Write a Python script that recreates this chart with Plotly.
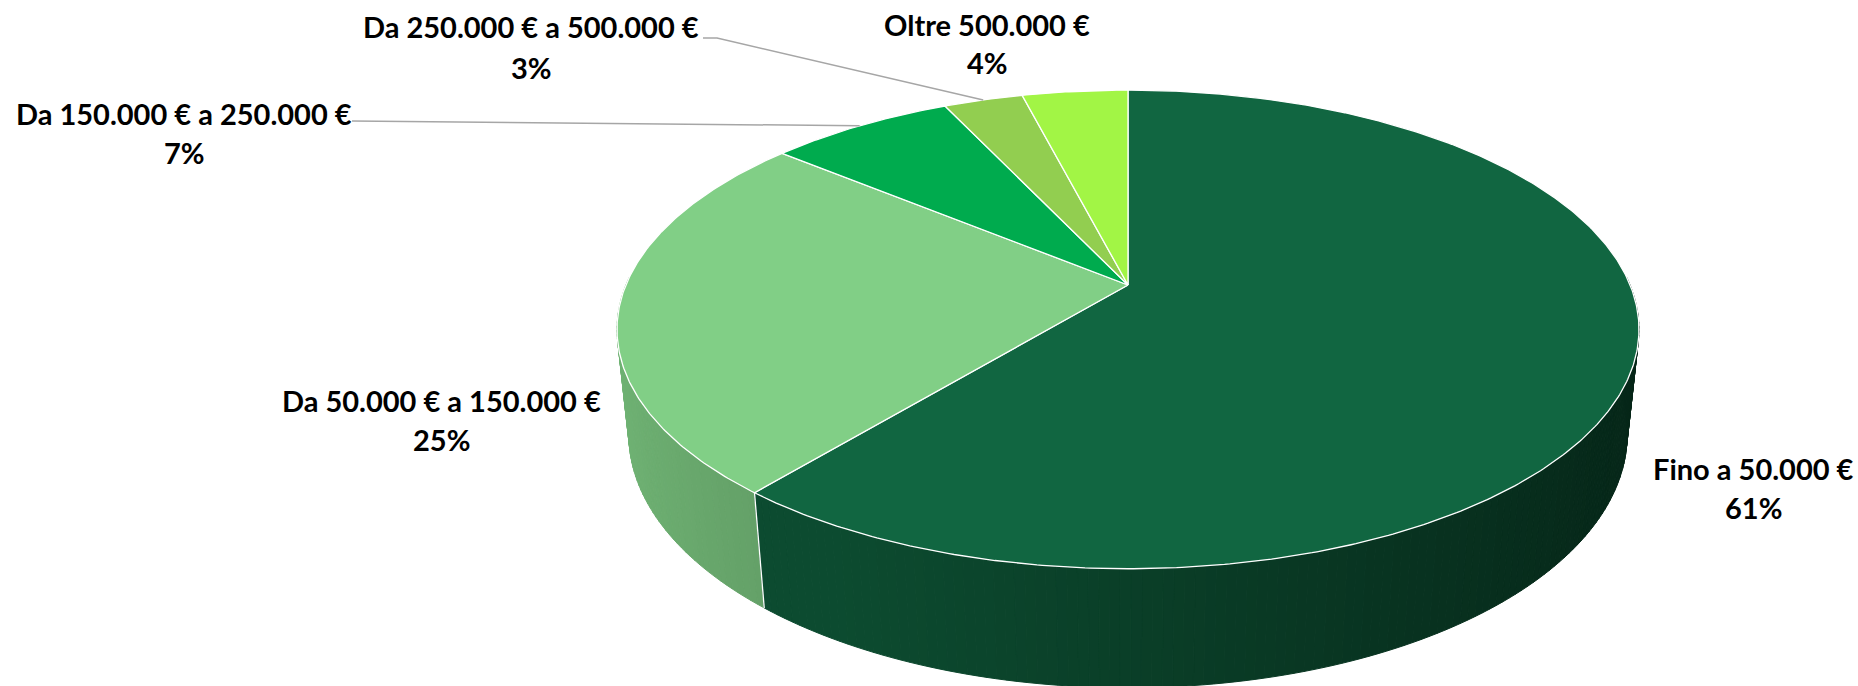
import numpy as np
import plotly.graph_objects as go

# ---------------- data ----------------
categories = ["Fino a 50.000 €", "Da 50.000 € a 150.000 €", "Da 150.000 € a 250.000 €",
              "Da 250.000 € a 500.000 €", "Oltre 500.000 €"]
values = [61, 25, 7, 3, 4]
colors = ["#116641", "#81CF86", "#00AB4E", "#92CE50", "#A2F545"]

# label placement (pixel positions of label centres: line 1 / line 2)
label_xy = [(1753, 468, 507), (441, 400, 439), (184, 113, 152), (531, 26, 67), (987, 24, 62)]
# leader lines start (label side) for the small slices; None = no leader
leader_start = [None, None, [(352, 121)], [(703, 38), (717, 38)], None]

# ---------------- geometry (3D pie, perspective) ----------------
W, H = 1858, 686
CX, CY = 1128, 285
ELEV = np.radians(27.4)
SE, CE = np.sin(ELEV), np.cos(ELEV)
DIST = 4.78
FOC = 2400.0
THICK = 0.238


def proj(theta_deg, z):
    t = np.radians(np.asarray(theta_deg, dtype=float))
    X, Y = np.sin(t), np.cos(t)
    ys = Y * SE + z * CE
    depth = DIST + Y * CE - z * SE
    return CX + FOC * X / depth, CY - FOC * ys / depth


def shade(hexcol, f):
    r, g, b = int(hexcol[1:3], 16), int(hexcol[3:5], 16), int(hexcol[5:7], 16)
    return "rgb(%d,%d,%d)" % (min(255, r * f), min(255, g * f), min(255, b * f))


total = float(sum(values))
bounds = np.concatenate([[0], np.cumsum(values) / total * 360.0])

fig = go.Figure()

# ---- side walls (front half), far to near ----
segs = []
for i in range(len(values)):
    a0, a1 = bounds[i], bounds[i + 1]
    lo, hi = max(a0, 88.0), min(a1, 272.0)
    if hi <= lo:
        continue
    n = max(1, int(np.ceil((hi - lo) / 1.0)))
    edges = np.linspace(lo, hi, n + 1)
    for t0, t1 in zip(edges[:-1], edges[1:]):
        segs.append((i, t0, t1))
segs.sort(key=lambda s: np.cos(np.radians((s[1] + s[2]) / 2)), reverse=True)
for i, t0, t1 in segs:
    tm = np.radians((t0 + t1) / 2)
    f = 0.62 + 0.25 * (-np.sin(tm))
    if i == 0:
        f = min(f, 0.74)
    col = shade(colors[i], f)
    xa, ya = proj([t0, t1], 0.0)
    xb, yb = proj([t1, t0], -THICK)
    fig.add_trace(go.Scatter(x=list(xa) + list(xb) + [xa[0]], y=list(ya) + list(yb) + [ya[0]],
                             mode="lines", fill="toself", fillcolor=col,
                             line=dict(color=col, width=1), hoverinfo="skip"))

# white edge on the side at slice boundaries that are visible
for b in bounds[1:-1]:
    if 100 < b < 260:
        xs, ys_ = proj([b, b], np.array([0.0, -THICK]))
        fig.add_trace(go.Scatter(x=xs, y=ys_, mode="lines",
                                 line=dict(color="white", width=1.3), hoverinfo="skip"))

# ---- top faces ----
for i in range(len(values)):
    a0, a1 = bounds[i], bounds[i + 1]
    th = np.linspace(a0, a1, max(3, int((a1 - a0) * 2)))
    xs, ys_ = proj(th, 0.0)
    fig.add_trace(go.Scatter(x=[CX] + list(xs) + [CX], y=[CY] + list(ys_) + [CY],
                             mode="lines", fill="toself", fillcolor=colors[i],
                             line=dict(color="white", width=1.3), hoverinfo="skip",
                             name=categories[i]))

# ---- leader lines ----
for i in range(len(values)):
    if leader_start[i] is None:
        continue
    mid = (bounds[i] + bounds[i + 1]) / 2
    ex, ey = proj([mid], 0.0)
    pts = leader_start[i] + [(float(ex[0]), float(ey[0]))]
    fig.add_trace(go.Scatter(x=[p[0] for p in pts], y=[p[1] for p in pts], mode="lines",
                             line=dict(color="#A6A6A6", width=1.5), hoverinfo="skip"))

# ---- labels ----
font = dict(family="Lato", size=29, color="black", weight="bold")
for i in range(len(values)):
    lx, ly1, ly2 = label_xy[i]
    fig.add_annotation(x=lx, y=ly1, text=categories[i], showarrow=False, font=font,
                       xanchor="center", yanchor="middle")
    fig.add_annotation(x=lx, y=ly2, text="%d%%" % values[i], showarrow=False, font=font,
                       xanchor="center", yanchor="middle")

fig.update_layout(width=W, height=H, autosize=False,
                  margin=dict(l=0, r=0, t=0, b=0, pad=0),
                  paper_bgcolor="white", plot_bgcolor="white", showlegend=False,
                  xaxis=dict(range=[0, W], visible=False, fixedrange=True),
                  yaxis=dict(range=[H, 0], visible=False, fixedrange=True))

fig.write_html("out.html", config={"displayModeBar": False},
               post_script="document.body.style.margin='0';document.body.style.overflow='hidden';")
